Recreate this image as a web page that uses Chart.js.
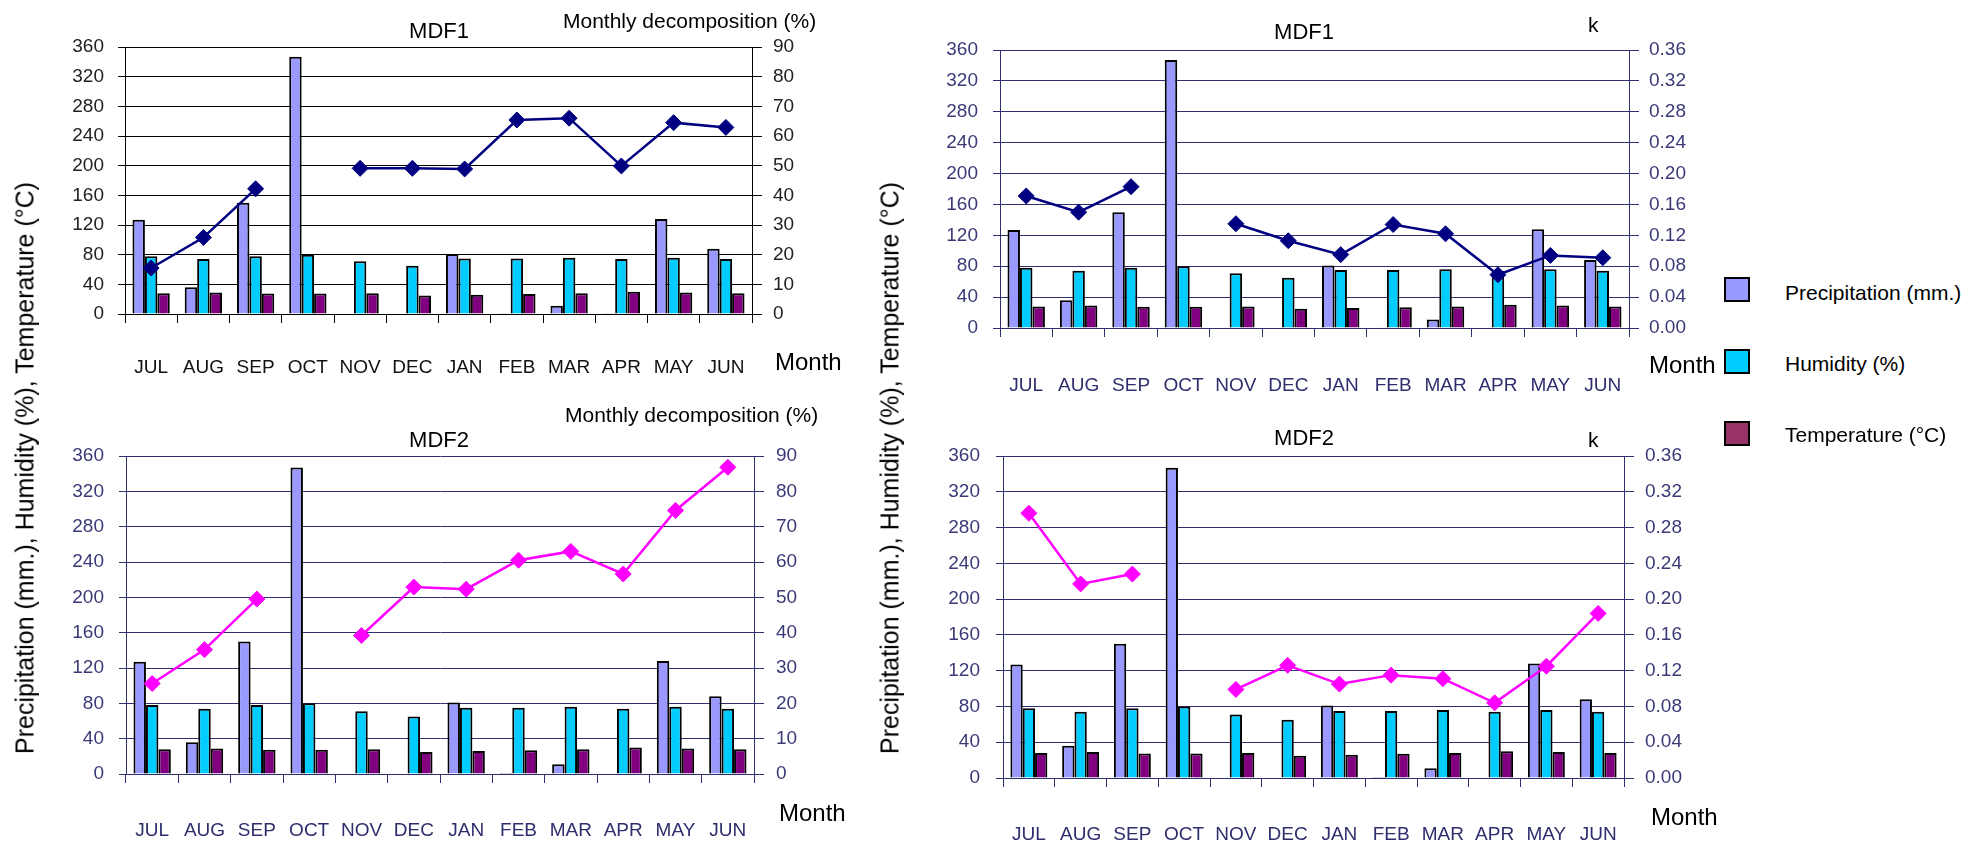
<!DOCTYPE html>
<html>
<head>
<meta charset="utf-8">
<title>MDF1 / MDF2 monthly climate and decomposition</title>
<script src="https://cdn.jsdelivr.net/npm/chart.js@4.4.1/dist/chart.umd.min.js"></script>
<style>
  html, body { margin: 0; padding: 0; background: #ffffff; }
  #page { position: relative; width: 1984px; height: 846px; overflow: hidden;
          font-family: 'Liberation Sans', Arial, sans-serif; }
  .panel { position: absolute; }
  .panel canvas { display: block; }
  .txt { position: absolute; white-space: nowrap; color: #000; line-height: 1; }
  .vcenter { transform: translateY(-50%); }
  .center { transform: translate(-50%, -50%); }
  .ytitle { position: absolute; white-space: nowrap; font-size: 25px; color: #000; line-height: 1;
            transform: translate(-50%, -50%) rotate(-90deg); }
  .lgbox { position: absolute; width: 22px; height: 21px; border: 2px solid #000; }
</style>
</head>
<body>
<div id="page">
  <div class="panel" style="left:0px;top:0px;"><canvas id="mdf1Decomp" width="880" height="400"></canvas></div>
  <div class="panel" style="left:900px;top:0px;"><canvas id="mdf1K" width="820" height="400"></canvas></div>
  <div class="panel" style="left:0px;top:400px;"><canvas id="mdf2Decomp" width="880" height="446"></canvas></div>
  <div class="panel" style="left:900px;top:400px;"><canvas id="mdf2K" width="820" height="446"></canvas></div>

  <!-- shared vertical axis titles -->
  <div class="ytitle" style="left:25px;top:468px;">Precipitation (mm.), Humidity (%), Temperature (°C)</div>
  <div class="ytitle" style="left:890px;top:468px;">Precipitation (mm.), Humidity (%), Temperature (°C)</div>

  <!-- chart titles -->
  <div class="txt center" style="left:439px;top:31px;font-size:22px;">MDF1</div>
  <div class="txt center" style="left:1304px;top:32px;font-size:22px;">MDF1</div>
  <div class="txt center" style="left:439px;top:440px;font-size:22px;">MDF2</div>
  <div class="txt center" style="left:1304px;top:438px;font-size:22px;">MDF2</div>

  <!-- secondary axis titles -->
  <div class="txt vcenter" style="left:563px;top:20px;font-size:21px;">Monthly decomposition (%)</div>
  <div class="txt vcenter" style="left:565px;top:414px;font-size:21px;">Monthly decomposition (%)</div>
  <div class="txt vcenter" style="left:1588px;top:24px;font-size:21px;">k</div>
  <div class="txt vcenter" style="left:1588px;top:439px;font-size:21px;">k</div>

  <!-- category axis titles -->
  <div class="txt vcenter" style="left:775px;top:362px;font-size:24px;">Month</div>
  <div class="txt vcenter" style="left:1649px;top:365px;font-size:24px;">Month</div>
  <div class="txt vcenter" style="left:779px;top:813px;font-size:24px;">Month</div>
  <div class="txt vcenter" style="left:1651px;top:817px;font-size:24px;">Month</div>

  <!-- legend -->
  <div class="lgbox" style="left:1724px;top:277px;background:#9999FF;"></div>
  <div class="txt vcenter" style="left:1785px;top:292px;font-size:21px;">Precipitation (mm.)</div>
  <div class="lgbox" style="left:1724px;top:349px;background:#00CCFF;"></div>
  <div class="txt vcenter" style="left:1785px;top:363px;font-size:21px;">Humidity (%)</div>
  <div class="lgbox" style="left:1724px;top:421px;background:#993366;"></div>
  <div class="txt vcenter" style="left:1785px;top:434px;font-size:21px;">Temperature (°C)</div>
</div>

<script>
// Monthly values, July to June
const months = ['JUL', 'AUG', 'SEP', 'OCT', 'NOV', 'DEC', 'JAN', 'FEB', 'MAR', 'APR', 'MAY', 'JUN'];
const precipitation = [127, 36, 150, 347, 0, 0, 81, 1, 11, 0.5, 128, 88];
const humidity = [78, 74, 78, 80, 71, 65, 75, 75, 76, 74, 76, 74];
const temperature = [28, 29, 27.5, 27.5, 28, 25, 26, 27, 28, 30, 29, 28];

// Decomposition per plot (no reading in October)
const decompMDF1 = [15.5, 25.8, 42.2, null, 49.1, 49.1, 48.9, 65.4, 66.0, 49.9, 64.5, 62.9];
const kMDF1 = [0.171, 0.150, 0.183, null, 0.135, 0.113, 0.095, 0.134, 0.122, 0.069, 0.094, 0.091];
const decompMDF2 = [25.6, 35.2, 49.5, null, 39.2, 52.9, 52.3, 60.5, 63.0, 56.6, 74.6, 86.8];
const kMDF2 = [0.296, 0.217, 0.228, null, 0.099, 0.126, 0.105, 0.115, 0.111, 0.084, 0.125, 0.184];

// Axis tick values
const climateTicks = [0, 40, 80, 120, 160, 200, 240, 280, 320, 360];
const decompTicks = [0, 10, 20, 30, 40, 50, 60, 70, 80, 90];
const kTicks = [0, 0.04, 0.08, 0.12, 0.16, 0.20, 0.24, 0.28, 0.32, 0.36];

const FONT = "'Liberation Sans', Arial, sans-serif";
Chart.defaults.font.family = FONT;

function buildChart(canvasId, cfg) {
  const canvas = document.getElementById(canvasId);
  const W = canvas.width, H = canvas.height, A = cfg.area;
  const tickFont = { family: FONT, size: 19 };
  const barCommon = {
    categoryPercentage: 0.714,
    barPercentage: 1.0,
    borderColor: '#000000',
    borderWidth: 2,
    borderSkipped: 'start',
    yAxisID: 'y',
    order: 1
  };
  return new Chart(canvas, {
    type: 'bar',
    data: {
      labels: months,
      datasets: [
        {
          type: 'line',
          label: cfg.lineLabel,
          data: cfg.lineData,
          yAxisID: 'y2',
          borderColor: cfg.lineColor,
          backgroundColor: cfg.lineColor,
          borderWidth: 2.5,
          pointStyle: 'rectRot',
          pointRadius: 8,
          pointHoverRadius: 8,
          pointBorderWidth: 1,
          pointBorderColor: cfg.lineColor,
          pointBackgroundColor: cfg.lineColor,
          spanGaps: false,
          tension: 0,
          order: 0
        },
        Object.assign({ label: 'Precipitation (mm.)', data: precipitation, backgroundColor: '#9999FF' }, barCommon),
        Object.assign({ label: 'Humidity (%)', data: humidity, backgroundColor: '#00CCFF' }, barCommon),
        Object.assign({ label: 'Temperature (°C)', data: temperature, backgroundColor: '#800080' }, barCommon)
      ]
    },
    options: {
      responsive: false,
      animation: false,
      events: [],
      layout: { padding: { top: A.t, left: 0, right: 0, bottom: 0 } },
      plugins: { legend: { display: false }, tooltip: { enabled: false }, title: { display: false } },
      scales: {
        x: {
          offset: true,
          grid: { offset: true, drawOnChartArea: false, drawTicks: true, tickLength: 9,
                  color: cfg.axisColor, lineWidth: 1 },
          border: { display: true, color: cfg.axisColor, width: 1 },
          ticks: { color: cfg.xTickColor, font: tickFont, padding: cfg.xPad,
                   maxRotation: 0, minRotation: 0, autoSkip: false },
          afterFit(scale) { scale.height = H - A.b; }
        },
        y: {
          position: 'left',
          min: 0, max: 360,
          afterBuildTicks(scale) { scale.ticks = climateTicks.map(v => ({ value: v })); },
          grid: { color: cfg.gridColor, lineWidth: 1, drawTicks: true, tickLength: 7 },
          border: { display: true, color: cfg.axisColor, width: 1 },
          ticks: { color: cfg.tickColor, font: tickFont, padding: cfg.leftPad },
          afterFit(scale) { scale.width = A.l; }
        },
        y2: {
          position: 'right',
          min: 0, max: cfg.rightTicks[cfg.rightTicks.length - 1],
          afterBuildTicks(scale) { scale.ticks = cfg.rightTicks.map(v => ({ value: v })); },
          grid: { drawOnChartArea: false, color: cfg.axisColor, lineWidth: 1, drawTicks: true, tickLength: 10 },
          border: { display: true, color: cfg.axisColor, width: 1 },
          ticks: { color: cfg.tickColor, font: tickFont, padding: cfg.rightPad, callback: cfg.rightFormat },
          afterFit(scale) { scale.width = W - A.r; }
        }
      }
    }
  });
}

const pct = v => String(Math.round(v));
const kFmt = v => Number(v).toFixed(2);

// Areas are given in canvas-local pixels: left, right, top, bottom edges of the plot
buildChart('mdf1Decomp', {
  lineLabel: 'Monthly decomposition (%)', lineData: decompMDF1, lineColor: '#000080',
  rightTicks: decompTicks, rightFormat: pct,
  area: { l: 125, r: 752, t: 47, b: 314 },
  gridColor: '#000000', axisColor: '#000000', tickColor: '#222222', xTickColor: '#111111',
  xPad: 33, leftPad: 14, rightPad: 11
});
buildChart('mdf1K', {
  lineLabel: 'k', lineData: kMDF1, lineColor: '#000080',
  rightTicks: kTicks, rightFormat: kFmt,
  area: { l: 100, r: 729, t: 50, b: 328 },
  gridColor: '#2E2E70', axisColor: '#2E2E70', tickColor: '#3A3A78', xTickColor: '#2E2E6E',
  xPad: 37, leftPad: 15, rightPad: 10
});
buildChart('mdf2Decomp', {
  lineLabel: 'Monthly decomposition (%)', lineData: decompMDF2, lineColor: '#FF00FF',
  rightTicks: decompTicks, rightFormat: pct,
  area: { l: 126, r: 754, t: 56, b: 374 },
  gridColor: '#2E2E70', axisColor: '#2E2E70', tickColor: '#3A3A78', xTickColor: '#2E2E6E',
  xPad: 36, leftPad: 15, rightPad: 12
});
buildChart('mdf2K', {
  lineLabel: 'k', lineData: kMDF2, lineColor: '#FF00FF',
  rightTicks: kTicks, rightFormat: kFmt,
  area: { l: 103, r: 724, t: 56, b: 378 },
  gridColor: '#2E2E70', axisColor: '#2E2E70', tickColor: '#3A3A78', xTickColor: '#2E2E6E',
  xPad: 36, leftPad: 16, rightPad: 11
});
</script>
</body>
</html>
